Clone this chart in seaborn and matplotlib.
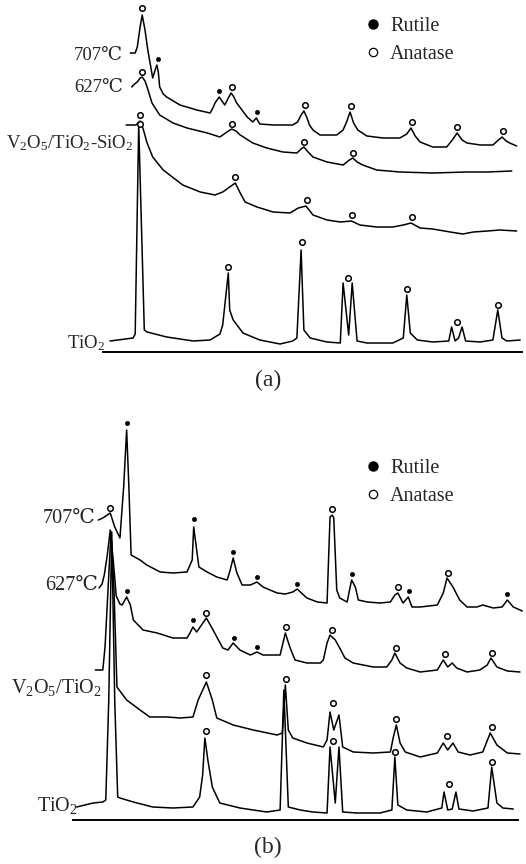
import matplotlib
matplotlib.use("Agg")
import matplotlib.pyplot as plt
import pandas as pd
import seaborn as sns
from matplotlib.lines import Line2D

# XRD patterns: (2theta in deg, intensity in a.u.)
# curves are stacked, so the intensities already contain the vertical offsets

# ---- panel (a): V2O5/TiO2-SiO2 ----
A_707 = [(23.9, 299), (24.6, 299), (24.9, 305), (25.3, 325), (25.6, 337), (26.0, 322), (26.4, 302),
         (27.1, 274), (27.5, 283), (27.7, 287), (27.9, 280), (28.1, 265), (28.6, 258), (29.1, 255),
         (31.0, 247), (33.4, 242), (35.3, 239), (35.7, 244), (36.0, 249), (36.6, 255), (37.0, 251),
         (37.4, 247), (37.9, 254), (38.3, 259), (38.7, 255), (39.1, 249), (40.6, 235), (41.4, 230),
         (41.9, 234), (42.4, 228), (44.3, 227), (47.1, 227), (47.8, 230), (48.3, 237), (48.7, 241),
         (49.1, 235), (49.5, 227), (50.0, 222), (51.0, 217), (53.4, 217), (54.3, 222), (54.8, 230),
         (55.3, 240), (55.8, 229), (56.4, 222), (57.7, 216), (60.0, 214), (62.4, 214), (63.4, 218),
         (64.0, 224), (64.6, 216), (65.3, 210), (67.1, 205), (69.1, 205), (69.9, 212), (70.6, 219),
         (71.3, 212), (72.0, 209), (73.9, 207), (75.7, 207), (76.5, 212), (77.0, 215), (77.6, 211),
         (78.1, 209), (79.1, 206)]
A_627 = [(24.1, 265), (24.5, 268), (24.9, 270), (25.3, 274), (25.6, 275), (26.0, 271), (26.3, 265),
         (27.0, 249), (28.1, 237), (30.0, 229), (32.0, 224), (34.9, 219), (36.7, 215), (37.7, 220),
         (38.4, 223), (39.0, 221), (39.6, 217), (41.4, 209), (43.4, 204), (45.7, 200), (47.7, 199),
         (48.3, 203), (48.7, 205), (49.3, 200), (50.0, 195), (52.0, 190), (54.3, 187), (55.2, 192),
         (55.7, 194), (56.3, 190), (57.1, 187), (59.1, 182), (62.4, 180), (67.1, 179), (72.0, 180),
         (74.9, 180), (78.4, 181)]
A_VTS = [(23.3, 227), (24.7, 227), (25.3, 231), (25.7, 224), (26.3, 209), (27.1, 195), (28.6, 182),
         (31.4, 167), (33.9, 160), (36.0, 157), (37.1, 160), (38.1, 165), (38.9, 169), (39.6, 159),
         (40.3, 150), (42.0, 145), (44.3, 140), (46.7, 139), (47.9, 144), (49.0, 146), (50.0, 137),
         (52.0, 132), (53.9, 130), (55.5, 131), (56.7, 127), (59.1, 125), (61.4, 125), (62.9, 127),
         (64.0, 129), (65.3, 124), (67.1, 123), (69.6, 120), (71.4, 118), (72.9, 120), (74.9, 121),
         (76.7, 122), (79.1, 121)]
A_TIO2 = [(21.0, 11), (24.3, 14), (24.6, 18), (25.1, 227), (25.9, 22), (26.3, 20), (29.1, 15),
          (32.9, 11), (35.3, 12), (36.7, 18), (37.1, 27), (37.9, 79), (38.1, 42), (38.6, 32),
          (40.0, 19), (42.4, 12), (45.3, 8), (47.1, 11), (47.7, 14), (48.3, 102), (48.7, 22),
          (49.6, 14), (52.0, 10), (53.9, 9), (54.3, 69), (55.1, 17), (55.6, 69), (56.3, 11),
          (57.7, 9), (61.4, 9), (62.9, 14), (63.4, 57), (63.9, 19), (64.9, 12), (67.1, 10),
          (69.4, 11), (69.8, 25), (70.3, 11), (70.8, 14), (71.3, 25), (71.8, 11), (73.9, 10),
          (75.7, 12), (76.4, 42), (77.0, 14), (77.7, 11), (79.6, 12)]
A_RUTILE = [(27.8, 293), (36.6, 261), (42.0, 240)]
A_ANATASE = [(25.6, 344), (38.4, 265), (48.8, 247), (55.4, 246), (64.1, 230), (70.6, 225), (77.1, 221),
             (25.6, 280), (38.4, 228), (48.7, 210), (55.7, 199),
             (25.3, 237), (25.3, 228), (38.9, 175), (49.1, 152), (55.6, 137), (64.1, 135),
             (37.9, 85), (48.4, 110), (55.0, 74), (63.4, 63), (70.6, 30), (76.4, 47)]
A_LABELS = [("707\u2103", 22.9, 297), ("627\u2103", 22.9, 264),
            ("V$_2$O$_5$/TiO$_2$-SiO$_2$", 24.4, 209), ("TiO$_2$", 20.3, 9)]

# ---- panel (b): V2O5/TiO2 ----
B_707 = [(23.4, 300), (24.0, 302), (24.6, 305), (25.0, 307), (25.6, 293), (26.3, 282), (26.8, 333),
         (27.2, 390), (27.5, 333), (27.8, 265), (29.0, 260), (29.9, 255), (31.7, 248), (33.4, 247),
         (35.3, 248), (36.0, 260), (36.2, 293), (36.6, 270), (36.9, 253), (38.0, 248), (39.3, 243),
         (40.7, 240), (41.1, 250), (41.5, 262), (42.0, 247), (42.7, 235), (43.8, 235), (44.7, 238),
         (45.5, 233), (47.4, 227), (48.5, 226), (49.5, 228), (50.1, 231), (50.8, 226), (51.4, 222),
         (52.8, 218), (54.1, 217), (54.5, 303), (54.8, 305), (55.0, 302), (55.4, 230), (55.8, 222),
         (56.8, 218), (57.2, 233), (57.4, 240), (57.9, 233), (58.3, 220), (59.5, 218), (61.2, 217),
         (62.6, 218), (63.2, 225), (63.6, 227), (64.3, 217), (65.0, 223), (65.5, 213), (66.6, 213),
         (68.9, 215), (69.7, 227), (70.2, 242), (71.0, 233), (71.9, 220), (72.9, 213), (74.2, 213),
         (75.0, 215), (76.4, 212), (77.6, 213), (78.3, 220), (79.1, 213), (80.3, 209)]
B_627 = [(23.5, 232), (23.9, 236), (24.2, 245), (24.6, 265), (25.0, 290), (25.4, 260), (25.8, 224),
         (26.3, 216), (26.6, 215), (27.2, 223), (27.7, 215), (28.1, 200), (29.4, 190), (31.3, 187),
         (33.4, 182), (35.3, 182), (35.7, 187), (36.1, 193), (36.6, 188), (37.9, 202), (38.8, 190),
         (40.1, 172), (40.8, 170), (41.5, 177), (42.4, 170), (43.8, 165), (44.7, 168), (45.5, 165),
         (47.8, 165), (48.5, 187), (49.1, 173), (49.8, 160), (51.4, 157), (53.2, 157), (53.6, 160),
         (54.1, 177), (54.5, 185), (55.2, 180), (55.8, 172), (56.5, 162), (57.6, 157), (60.3, 153),
         (62.1, 153), (62.8, 160), (63.2, 167), (63.9, 157), (64.8, 152), (66.6, 148), (68.9, 150),
         (69.7, 160), (70.3, 153), (70.9, 157), (71.5, 152), (72.9, 148), (74.6, 150), (75.6, 155),
         (76.1, 162), (76.9, 153), (78.3, 149), (80.0, 148)]
B_VT = [(23.0, 150), (24.0, 150), (24.3, 173), (24.7, 230), (25.1, 288), (25.5, 230), (25.9, 133),
        (27.2, 120), (29.0, 110), (30.3, 103), (32.6, 103), (34.4, 102), (36.1, 103), (36.8, 120),
        (37.9, 138), (38.7, 120), (39.3, 102), (41.5, 95), (44.2, 90), (47.4, 85), (48.1, 87),
        (48.5, 135), (48.9, 90), (49.5, 82), (51.4, 77), (53.6, 73), (54.1, 80), (54.5, 108),
        (55.0, 90), (55.7, 105), (56.2, 73), (57.6, 68), (60.3, 67), (62.6, 68), (63.0, 83),
        (63.4, 95), (63.9, 77), (64.6, 68), (66.6, 63), (68.9, 67), (69.7, 77), (70.3, 70),
        (71.0, 77), (71.7, 68), (73.3, 65), (75.0, 68), (76.0, 87), (76.9, 75), (78.3, 67), (80.0, 66)]
B_TIO2 = [(20.5, 13), (22.7, 17), (24.0, 18), (24.4, 20), (24.8, 120), (25.2, 288), (25.6, 120),
          (26.0, 23), (26.3, 22), (28.1, 18), (30.7, 13), (33.4, 12), (36.1, 13), (37.0, 23),
          (37.4, 45), (37.7, 82), (38.1, 60), (38.7, 33), (39.7, 17), (42.4, 12), (46.0, 8),
          (47.8, 10), (48.3, 130), (48.9, 13), (50.5, 10), (52.2, 8), (54.1, 7), (54.5, 73),
          (55.2, 17), (55.7, 73), (56.2, 8), (58.1, 7), (61.2, 7), (62.8, 10), (63.2, 63),
          (63.6, 15), (64.8, 10), (67.5, 8), (69.5, 12), (69.8, 28), (70.3, 10), (70.9, 11),
          (71.4, 28), (71.8, 11), (73.7, 9), (75.7, 12), (76.2, 53), (76.9, 17), (77.7, 12), (79.1, 11)]
B_RUTILE = [(27.2, 397), (36.2, 301), (41.5, 268), (44.7, 243), (50.1, 236), (57.4, 246), (65.1, 229),
            (78.3, 226),
            (27.2, 229), (36.1, 200), (41.6, 182), (44.7, 173)]
B_ANATASE = [(25.0, 312), (54.8, 311), (63.6, 233), (70.3, 247),
             (37.9, 207), (48.6, 193), (54.8, 190), (63.4, 172), (69.9, 166), (76.2, 167),
             (37.9, 145), (48.6, 141), (54.9, 117), (63.4, 101), (70.2, 84), (76.2, 93),
             (37.8, 89), (54.9, 79), (63.2, 68), (70.5, 36), (76.2, 58)]
B_LABELS = [("707\u2103", 22.95, 302), ("627\u2103", 23.4, 235),
            ("V$_2$O$_5$/TiO$_2$", 23.9, 133), ("TiO$_2$", 20.7, 14)]

sns.set_style("white")
plt.rcParams["font.family"] = ["Liberation Serif", "DejaVu Serif"]
plt.rcParams["mathtext.fontset"] = "custom"
plt.rcParams["mathtext.rm"] = "Liberation Serif"
plt.rcParams["mathtext.it"] = "Liberation Serif:italic"

fig = plt.figure(figsize=(5.26, 8.64), dpi=100)


def draw_panel(ax, curves, rutile, anatase, labels, label_size, xmax, ymax, leg_anchor):
    for pts in curves:
        df = pd.DataFrame(pts, columns=["two_theta", "intensity"])
        sns.lineplot(data=df, x="two_theta", y="intensity", sort=False, estimator=None,
                     color="black", lw=1.1, ax=ax)
    for ln in ax.lines:
        ln.set_clip_on(False)

    r = pd.DataFrame(rutile, columns=["two_theta", "intensity"])
    a = pd.DataFrame(anatase, columns=["two_theta", "intensity"])
    sns.scatterplot(data=r, x="two_theta", y="intensity", color="black", s=9,
                    edgecolor="black", linewidth=0.5, ax=ax, clip_on=False, zorder=3)
    sns.scatterplot(data=a, x="two_theta", y="intensity", facecolor="white", s=16,
                    edgecolor="black", linewidth=1.1, ax=ax, clip_on=False, zorder=3)

    for txt, x, y in labels:
        ax.text(x, y, txt, ha="right", va="center", fontsize=label_size, clip_on=False)

    handles = [Line2D([], [], ls="", marker="o", color="black", markersize=6.5, label="Rutile"),
               Line2D([], [], ls="", marker="o", markerfacecolor="white", markeredgecolor="black",
                      markeredgewidth=0.9, markersize=6, label="Anatase")]
    ax.legend(handles=handles, loc="upper left", bbox_to_anchor=leg_anchor, frameon=False,
              fontsize=14.5, handlelength=0.8, handletextpad=0.45, labelspacing=0.45,
              borderpad=0, borderaxespad=0)

    ax.set_xlim(20, xmax)
    ax.set_ylim(0, ymax)
    ax.set_xticks([])
    ax.set_yticks([])
    ax.set_xlabel("")
    ax.set_ylabel("")
    for side in ["top", "left", "right"]:
        ax.spines[side].set_visible(False)
    ax.spines["bottom"].set_linewidth(1.4)
    ax.spines["bottom"].set_color("black")
    ax.patch.set_alpha(0)


ax_a = fig.add_axes([103 / 526, 1 - 352 / 864, 419 / 526, 352 / 864])
draw_panel(ax_a, [A_707, A_627, A_VTS, A_TIO2], A_RUTILE, A_ANATASE, A_LABELS, 13.5,
           79.86, 352, (0.625, 0.952))

ax_b = fig.add_axes([73 / 526, 1 - 820 / 864, 445 / 526, 400 / 864])
draw_panel(ax_b, [B_707, B_627, B_VT, B_TIO2], B_RUTILE, B_ANATASE, B_LABELS, 14.5,
           79.73, 400, (0.656, 0.902))

fig.text(268 / 526, 1 - 380 / 864, "(a)", ha="center", va="center", fontsize=17)
fig.text(268 / 526, 1 - 847 / 864, "(b)", ha="center", va="center", fontsize=17)

fig.savefig("out.png", dpi=100)
